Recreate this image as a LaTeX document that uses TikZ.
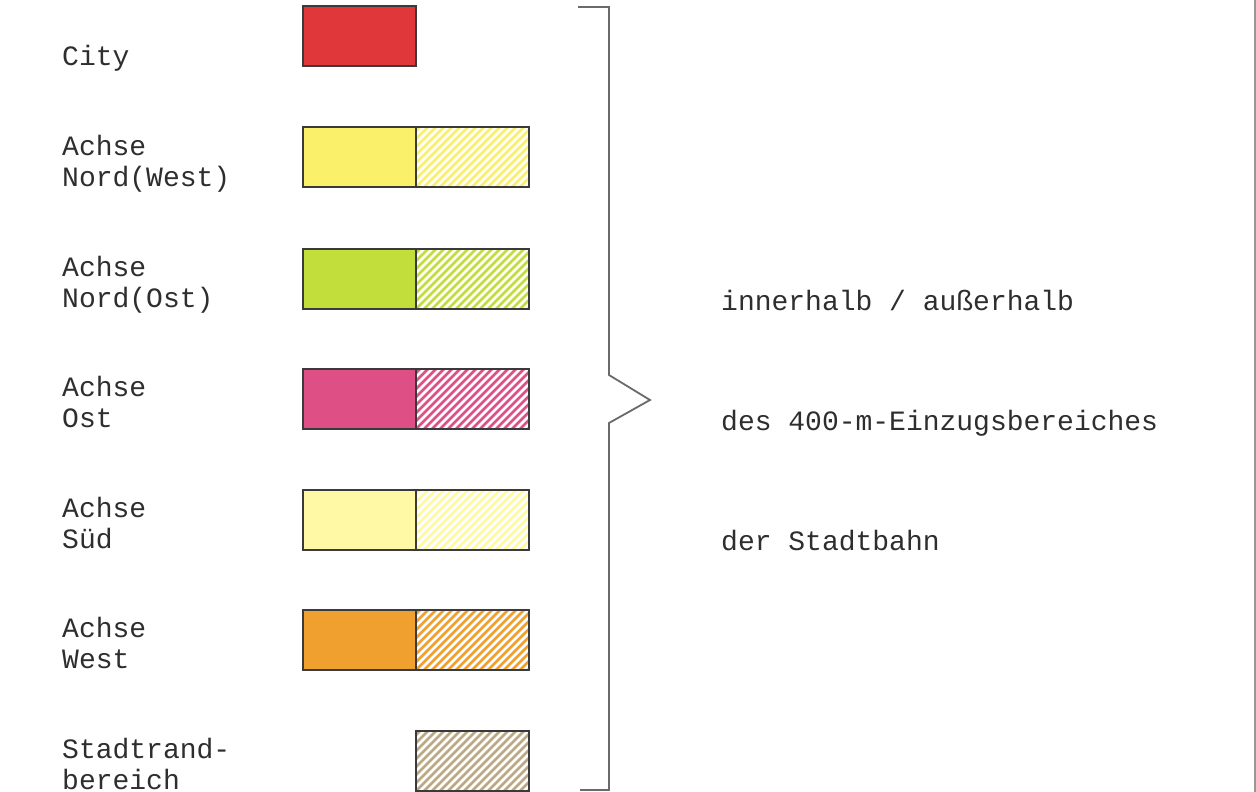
\documentclass[tikz,border=0pt]{standalone}
\usepackage{fontspec}
\newfontfamily\labfont{Liberation Mono}
\definecolor{cRed}{HTML}{E0383A}
\definecolor{cYel}{HTML}{FAF06A}
\definecolor{cLime}{HTML}{C2DE3A}
\definecolor{cPink}{HTML}{DE4F85}
\definecolor{cPale}{HTML}{FFF8A4}
\definecolor{cOrg}{HTML}{F0A02E}
\definecolor{cBrown}{HTML}{BBA884}
\definecolor{cLine}{HTML}{3A3A3A}
\definecolor{cBr}{HTML}{6A6A6A}
\definecolor{cTxt}{HTML}{2E2E2E}
\tikzset{
  lab/.style={font={\labfont\fontsize{28}{31}\selectfont}, text=cTxt, inner sep=0pt, anchor=base west, align=left},
  solidbox/.style={draw=cLine, line width=1.3pt, minimum width=113pt, minimum height=60pt, inner sep=0pt},
  hatchbox/.style={solidbox, path picture={
      \foreach \i in {-80,-72,...,130}
        \draw[#1, line width=2.6pt] ([xshift=\i pt]path picture bounding box.south west) -- ++(80pt,80pt);
    }},
  bracket/.style={draw=cBr, line width=1.8pt, line join=miter}
}
\begin{document}
\begin{tikzpicture}[x=1pt,y=-1pt]
\fill[white] (0,0) rectangle (1256,792);
\useasboundingbox (0,0) rectangle (1256,792);
\draw[cBr!70, line width=2pt] (1255,0) -- (1255,792);

% labels (base = baseline of last line)
\node[lab] (lcity) at (62,66) {City};
\node[lab] (lnw) at (62,186) {Achse\\Nord(West)};
\node[lab] (lno) at (62,307) {Achse\\Nord(Ost)};
\node[lab] (lost) at (62,427) {Achse\\Ost};
\node[lab] (lsud) at (62,548) {Achse\\Süd};
\node[lab] (lwest) at (62,668) {Achse\\West};
\node[lab] (lrand) at (62,789) {Stadtrand-\\bereich};

% boxes
\node[solidbox, fill=cRed] (bcity) at (359.5,36) {};
\node[solidbox, fill=cYel] (bnw1) at (359.5,157) {};
\node[hatchbox=cYel] (bnw2) at (472.5,157) {};
\node[solidbox, fill=cLime] (bno1) at (359.5,279) {};
\node[hatchbox=cLime] (bno2) at (472.5,279) {};
\node[solidbox, fill=cPink] (bost1) at (359.5,399) {};
\node[hatchbox=cPink] (bost2) at (472.5,399) {};
\node[solidbox, fill=cPale] (bsud1) at (359.5,520) {};
\node[hatchbox=cPale] (bsud2) at (472.5,520) {};
\node[solidbox, fill=cOrg] (bwest1) at (359.5,640) {};
\node[hatchbox=cOrg] (bwest2) at (472.5,640) {};
\node[hatchbox=cBrown] (brand) at (472.5,761) {};

% bracket
\coordinate (btop) at (578,7);
\coordinate (bbot) at (580,790);
\coordinate (btip) at (650,400);
\draw[bracket] (btop) -- (609,7) -- (609,375) -- (btip) -- (609,423) -- (609,790) -- (bbot);

% right texts
\node[lab] (t1) at (721,310) {innerhalb / außerhalb};
\node[lab] (t2) at (721,430) {des 400-m-Einzugsbereiches};
\node[lab] (t3) at (721,550) {der Stadtbahn};
\end{tikzpicture}
\end{document}
